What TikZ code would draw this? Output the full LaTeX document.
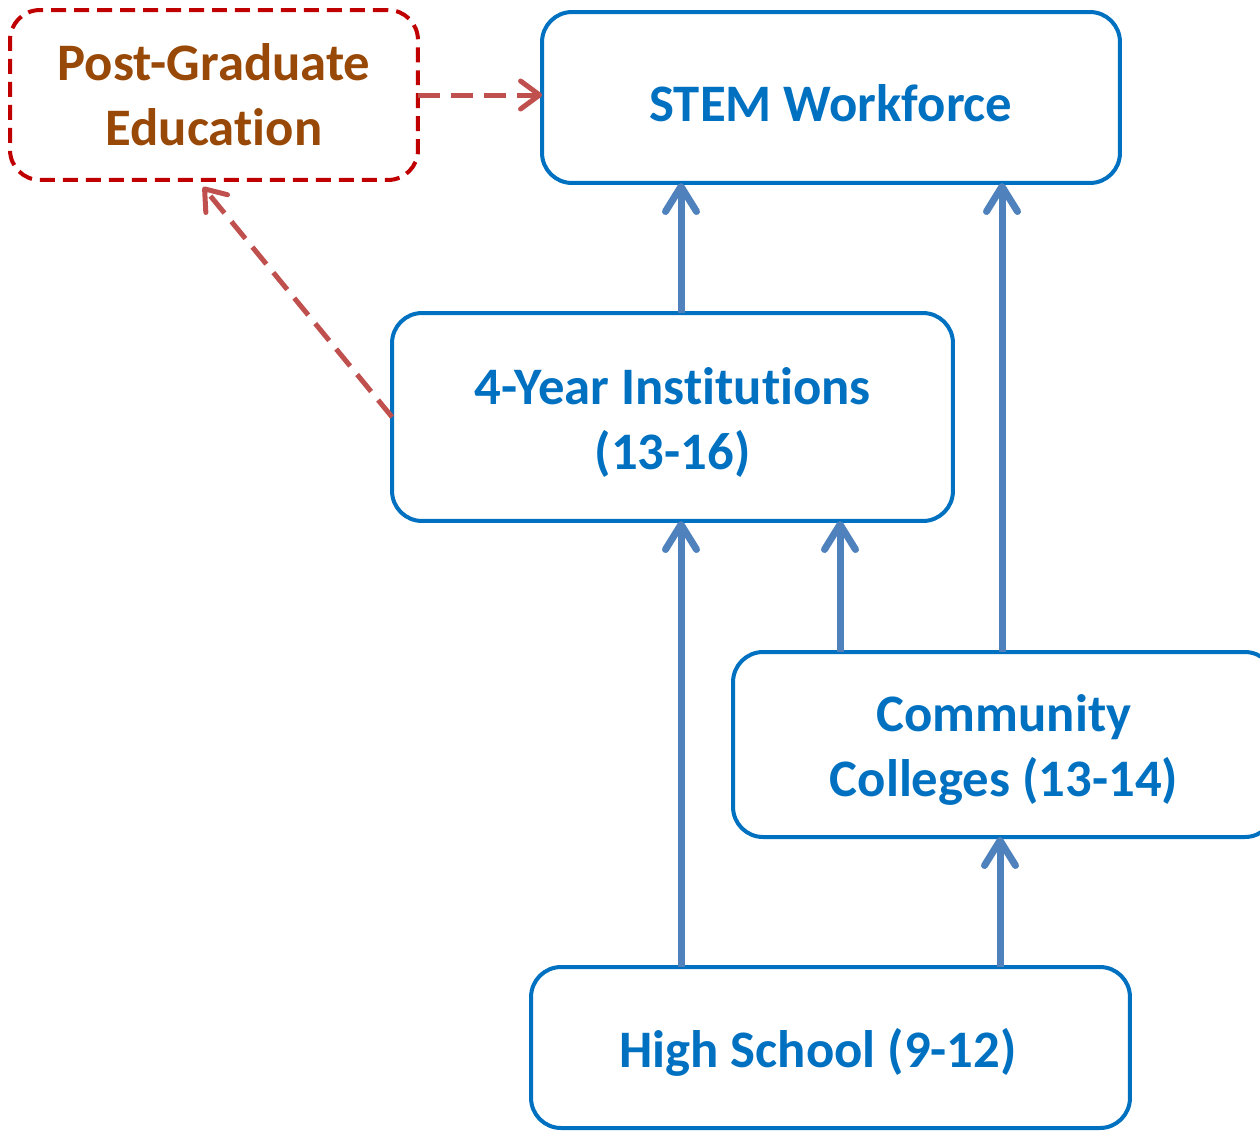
\documentclass[tikz,border=0pt]{standalone}
\usepackage{fontspec}
\setmainfont{Carlito}[Ligatures=NoCommon]
\usetikzlibrary{arrows.meta,calc}
\definecolor{boxblue}{HTML}{0070C0}
\definecolor{arrowblue}{HTML}{4F81BD}
\definecolor{pgred}{HTML}{C00000}
\definecolor{pgbrown}{HTML}{984807}
\definecolor{dashred}{HTML}{C0504D}
\newcommand\topgap{\rule{0pt}{27.5pt}}
\begin{document}
\begin{tikzpicture}
    [x=0.02cm,y=-0.02cm,
     plain/.style={line width=0.08cm,rounded corners=0.6cm,outer sep=0pt,
       align=center,font=\fontsize{30}{37}\selectfont\bfseries},
     box/.style={plain,draw=boxblue,text=boxblue},
     pgbox/.style={plain,draw=pgred,text=pgbrown,dash pattern=on 0.3cm off 0.16cm},
     up/.style={-{Straight Barb[length=0.5cm,width=0.62cm,line cap=round,line join=round]},
       draw=arrowblue,line width=0.14cm},
     dasharrow/.style={-{Straight Barb[length=0.38cm,width=0.56cm,line cap=round,line join=round]},
       draw=dashred,line width=0.1cm,dash pattern=on 0.44cm off 0.22cm}]
    \useasboundingbox (0,0) rectangle (1260,1130);
    \node [pgbox,minimum width=8.16cm,minimum height=3.4cm] (pg) at (214,95) {Post-Graduate\\Education};
    \node [box,minimum width=11.56cm,minimum height=3.42cm] (sw) at (831,97.5) {\topgap STEM Workforce};
    \node [box,minimum width=11.22cm,minimum height=4.16cm] (fy) at (672.5,417) {\topgap 4-Year Institutions\\(13-16)};
    \node [box,minimum width=10.84cm,minimum height=3.7cm] (cc) at (1004,744.5) {\topgap Community\\Colleges (13-14)};
    \node [box,minimum width=11.98cm,minimum height=3.22cm] (hs) at (830.5,1047.5) {\topgap High School (9-12)\hspace*{0.5cm}};
    % solid paths upward
    \draw [up] ($(fy.north)+(8.5,0)$) coordinate (c1) -- (c1 |- sw.south);
    \draw [up] ($(fy.south)+(8.5,0)$) coordinate (c2) (c2 |- hs.north) -- (c2);
    \draw [up] ($(cc.north)+(-164,0)$) coordinate (c3) -- (c3 |- fy.south);
    \draw [up] ($(cc.north)+(-2,0)$) coordinate (c4) -- (c4 |- sw.south);
    \draw [up] ($(hs.north)+(169.5,0)$) coordinate (c5) -- (c5 |- cc.south);
    % dashed paths through post-graduate
    \draw [dasharrow] (pg.east) -- (pg.east -| sw.west);
    \draw [dasharrow] (fy.west) -- ($(pg.south)+(-11,7)$);
\end{tikzpicture}
\end{document}
